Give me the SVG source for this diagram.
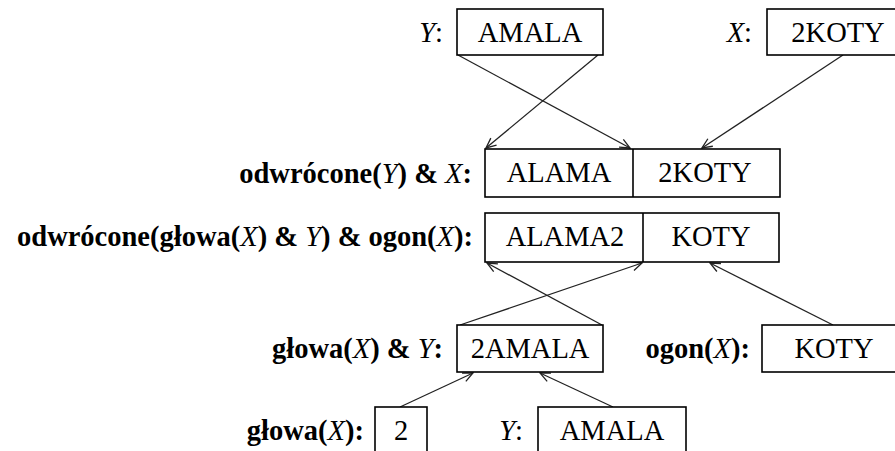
<svg xmlns="http://www.w3.org/2000/svg" width="895" height="451" viewBox="0 0 895 451" font-family="Liberation Serif, Times New Roman, Tinos, DejaVu Serif, Noto Serif, FreeSerif, serif">
  <style>
    .box { fill: #ffffff; stroke: #000000; stroke-width: 1.6; }
    .div { stroke: #000000; stroke-width: 1.6; }
    .val { text-anchor: middle; }
    .lbl { text-anchor: end; font-weight: bold; }
    .it { font-style: italic; font-weight: normal; }
    .nb { font-weight: normal; }
    .edge { fill: none; stroke: #222222; stroke-width: 1.3; marker-end: url(#arrow); }
  </style>
  <defs>
    <marker id="arrow" viewBox="0 0 12 12" refX="11" refY="6" markerWidth="12" markerHeight="12" markerUnits="userSpaceOnUse" orient="auto">
      <path d="M1,1.5 L11,6 L1,10.5" fill="none" stroke="#222222" stroke-width="1.3"/>
    </marker>
  </defs>

  <rect width="895" height="451" fill="#ffffff"/>

  <!-- connectors -->
  <g id="connectors">
    <line class="edge" x1="458" y1="55" x2="630" y2="148"/>
    <line class="edge" x1="598" y1="55" x2="486" y2="148"/>
    <line class="edge" x1="843" y1="55" x2="702" y2="148"/>
    <line class="edge" x1="460" y1="325" x2="642" y2="263"/>
    <line class="edge" x1="602" y1="325" x2="487" y2="263"/>
    <line class="edge" x1="833" y1="325" x2="710" y2="263"/>
    <line class="edge" x1="400" y1="407" x2="473" y2="373"/>
    <line class="edge" x1="613" y1="407" x2="540" y2="373"/>
  </g>

  <g font-family="Liberation Serif, Times New Roman, Tinos, DejaVu Serif, Noto Serif, FreeSerif, serif" font-size="28.5" fill="#000000">
    <!-- Y: AMALA (top) -->
    <g id="y-top">
      <text class="lbl" x="443" y="42"><tspan class="it">Y</tspan><tspan class="nb">:</tspan></text>
      <rect class="box" x="457" y="9" width="146" height="46"/>
      <text class="val" x="530" y="42">AMALA</text>
    </g>

    <!-- X: 2KOTY (top) -->
    <g id="x-top">
      <text class="lbl" x="752" y="42"><tspan class="it">X</tspan><tspan class="nb">:</tspan></text>
      <rect class="box" x="767" y="9" width="143" height="46"/>
      <text class="val" x="838" y="42">2KOTY</text>
    </g>

    <!-- odwrócone(Y) & X -->
    <g id="rev-y-x">
      <text class="lbl" x="472" y="183">odwrócone(<tspan class="it">Y</tspan>) &amp; <tspan class="it">X</tspan>:</text>
      <rect class="box" x="485" y="149" width="295" height="48"/>
      <line class="div" x1="633" y1="149" x2="633" y2="197"/>
      <text class="val" x="559" y="182">ALAMA</text>
      <text class="val" x="705" y="182">2KOTY</text>
    </g>

    <!-- odwrócone(głowa(X) & Y) & ogon(X) -->
    <g id="rev-head-tail">
      <text class="lbl" x="473" y="246">odwrócone(głowa(<tspan class="it">X</tspan>) &amp; <tspan class="it">Y</tspan>) &amp; ogon(<tspan class="it">X</tspan>):</text>
      <rect class="box" x="485" y="213" width="294" height="49"/>
      <line class="div" x1="643" y1="213" x2="643" y2="262"/>
      <text class="val" x="565" y="246">ALAMA2</text>
      <text class="val" x="711" y="246">KOTY</text>
    </g>

    <!-- głowa(X) & Y -->
    <g id="head-y">
      <text class="lbl" x="443" y="358">głowa(<tspan class="it">X</tspan>) &amp; <tspan class="it">Y</tspan>:</text>
      <rect class="box" x="457" y="325" width="146" height="47"/>
      <text class="val" x="530" y="358">2AMALA</text>
    </g>

    <!-- ogon(X) -->
    <g id="tail">
      <text class="lbl" x="750" y="358">ogon(<tspan class="it">X</tspan>):</text>
      <rect class="box" x="762" y="325" width="145" height="47"/>
      <text class="val" x="834" y="358">KOTY</text>
    </g>

    <!-- głowa(X) -->
    <g id="head">
      <text class="lbl" x="364" y="440">głowa(<tspan class="it">X</tspan>):</text>
      <rect class="box" x="375" y="407" width="52" height="50"/>
      <text class="val" x="401" y="440">2</text>
    </g>

    <!-- Y: AMALA (bottom) -->
    <g id="y-bottom">
      <text class="lbl" x="523" y="440"><tspan class="it">Y</tspan><tspan class="nb">:</tspan></text>
      <rect class="box" x="538" y="407" width="148" height="50"/>
      <text class="val" x="612" y="440">AMALA</text>
    </g>
  </g>
</svg>
